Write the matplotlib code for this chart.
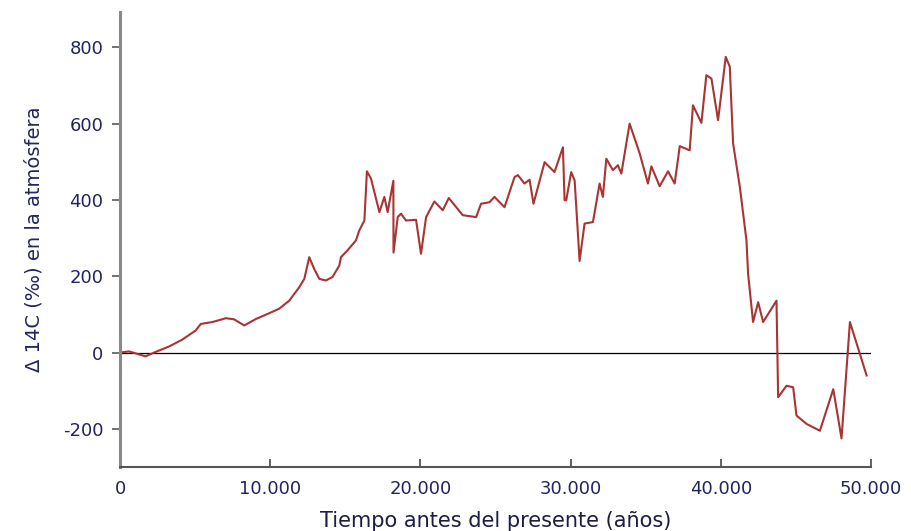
import matplotlib
matplotlib.use("Agg")
import matplotlib.pyplot as plt

plt.rcParams["axes.unicode_minus"] = False

# tiempo antes del presente (años) y Delta 14C (por mil)
years = [0, 600, 1700, 2270, 3270, 4150, 5040, 5380, 6150, 7050, 7600, 8270, 9050,
         9930, 10600, 11270, 11930, 12270, 12600, 12930, 13270, 13710, 14150, 14600,
         14710, 15150, 15710, 15930, 16270, 16440, 16710, 17270, 17600, 17820, 18040,
         18200, 18210, 18490, 18710, 19040, 19710, 20040, 20380, 20930, 21490, 21890,
         22820, 23710, 24040, 24600, 24930, 25600, 26270, 26490, 26930, 27270, 27530,
         28270, 28930, 29490, 29600, 29710, 30040, 30270, 30600, 30930, 31490, 31930,
         32150, 32380, 32820, 33150, 33380, 33930, 34600, 35150, 35380, 35930, 36490,
         36930, 37270, 37930, 38150, 38710, 39040, 39380, 39820, 40330, 40600, 40820,
         41270, 41710, 41820, 42150, 42490, 42820, 43710, 43820, 44380, 44820, 45040,
         45710, 46600, 47490, 48040, 48600, 49710]
delta14c = [0, 3, -10, 0, 16, 34, 58, 75, 80, 90, 87, 71, 88,
            103, 115, 136, 171, 193, 250, 219, 193, 189, 198, 228,
            250, 268, 294, 320, 346, 475, 456, 368, 408, 368, 416,
            450, 262, 355, 364, 346, 348, 259, 355, 396, 373, 405,
            360, 355, 390, 394, 408, 381, 460, 465, 443, 453, 390,
            499, 473, 538, 399, 399, 473, 451, 240, 338, 342, 443,
            408, 508, 478, 491, 469, 600, 522, 443, 488, 436, 475,
            443, 541, 530, 648, 602, 727, 718, 609, 775, 749, 548,
            434, 294, 206, 80, 132, 80, 136, -117, -87, -91, -165,
            -187, -205, -96, -225, 80, -60]

xticks = [0, 10000, 20000, 30000, 40000, 50000]
xticklabels = ["0", "10.000", "20.000", "30.000", "40.000", "50.000"]
yticks = [-200, 0, 200, 400, 600, 800]

navy = "#23235f"

fig = plt.figure(figsize=(9.12, 5.31), dpi=100)
ax = fig.add_axes([0.1316, 0.1205, 0.8234, 0.8565])

ax.axhline(0, color="black", lw=0.9, zorder=1)
ax.plot(years, delta14c, color="#a83434", lw=1.5, zorder=2)

ax.set_xlim(0, 50000)
ax.set_ylim(-300, 892)

ax.spines["top"].set_visible(False)
ax.spines["right"].set_visible(False)
ax.spines["left"].set_color("#8a8a8a")
ax.spines["left"].set_linewidth(2.2)
ax.spines["bottom"].set_color("#555555")
ax.spines["bottom"].set_linewidth(1.5)

ax.set_xticks(xticks)
ax.set_xticklabels(xticklabels)
ax.set_yticks(yticks)
ax.tick_params(axis="x", direction="in", length=6, width=1.3, color="#555555",
               labelsize=13, labelcolor=navy, pad=9)
ax.tick_params(axis="y", direction="out", length=6, width=1.3, color="#666666",
               labelsize=13, labelcolor=navy, pad=6)

ax.set_xlabel("Tiempo antes del presente (años)", fontsize=15, color="#1c1c45",
              labelpad=10)
ax.set_ylabel("Δ 14C (‰) en la atmósfera", fontsize=14, color=navy, labelpad=14)

fig.savefig("out.png", dpi=100)
